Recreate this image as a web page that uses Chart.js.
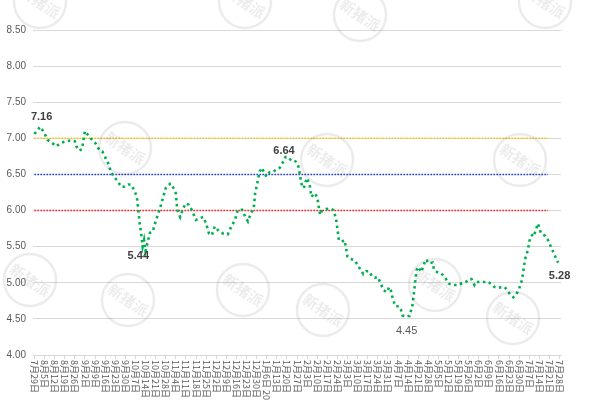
<!DOCTYPE html>
<html>
<head>
<meta charset="utf-8">
<script src="https://cdn.jsdelivr.net/npm/chart.js@4.4.1/dist/chart.umd.min.js"></script>
<style>
  html, body { margin: 0; padding: 0; background: #fff; }
</style>
</head>
<body>
<canvas id="priceChart" width="600" height="400"></canvas>
<script>
// weekly tick labels (one every 7 days)
const weekLabels = [
    '7月29日', '8月5日', '8月12日', '8月19日', '8月26日', '9月2日', '9月9日', '9月16日', '9月23日', '9月30日',
    '10月7日', '10月14日', '10月21日', '10月28日', '11月4日', '11月11日', '11月18日', '11月25日', '12月2日', '12月9日',
    '12月16日', '12月23日', '12月30日', '1月6日 2024', '1月13日', '1月20日', '1月27日', '2月3日', '2月10日', '2月17日',
    '2月24日', '3月3日', '3月10日', '3月17日', '3月24日', '3月31日', '4月7日', '4月14日', '4月21日', '4月28日',
    '5月5日', '5月12日', '5月19日', '5月26日', '6月2日', '6月9日', '6月16日', '6月23日', '6月30日', '7月7日',
    '7月14日', '7月21日', '7月28日'
];

// price series: day offset from 7月29日 and value
const priceDays = [
    0, 4, 7, 9, 12, 15, 19, 22, 25, 28, 29, 31, 33, 35, 37, 39, 42, 45, 47, 51,
    53, 55, 58, 60, 62, 65, 67, 69, 71, 72, 73, 74, 75, 76, 77, 80, 82, 84, 87, 89,
    91, 94, 95, 98, 99, 101, 103, 105, 107, 109, 112, 114, 117, 119, 121, 123, 125, 128, 131, 134,
    136, 139, 141, 144, 146, 148, 150, 152, 153, 155, 156, 158, 159, 161, 163, 165, 168, 170, 172, 174,
    176, 178, 180, 181, 183, 184, 185, 186, 187, 188, 189, 191, 192, 194, 196, 197, 198, 199, 202, 205,
    207, 209, 210, 211, 213, 215, 216, 217, 219, 222, 224, 226, 228, 230, 232, 234, 236, 238, 240, 242,
    244, 246, 247, 248, 250, 253, 254, 255, 257, 259, 260, 262, 263, 264, 265, 266, 268, 270, 271, 272,
    273, 276, 277, 279, 281, 283, 285, 287, 290, 292, 294, 296, 299, 301, 303, 305, 306, 308, 311, 313,
    315, 317, 319, 321, 324, 326, 328, 330, 332, 334, 336, 338, 339, 340, 342, 343, 344, 345, 346, 348,
    349, 350, 351, 354, 356, 358, 360, 362, 363
];
const priceValues = [
    7.06, 7.16, 7.07, 6.98, 6.94, 6.89, 6.94, 6.96, 6.97, 6.96, 6.89, 6.83, 6.85, 7.10, 7.05, 7.00, 6.94, 6.84, 6.82, 6.66,
    6.54, 6.47, 6.40, 6.33, 6.33, 6.36, 6.36, 6.29, 6.19, 6.01, 5.82, 5.68, 5.50, 5.59, 5.44, 5.69, 5.71, 5.85, 6.03, 6.17,
    6.31, 6.37, 6.37, 6.24, 6.01, 5.91, 6.03, 6.10, 6.08, 6.01, 5.87, 5.89, 5.91, 5.82, 5.68, 5.66, 5.78, 5.71, 5.68, 5.67,
    5.76, 5.87, 6.01, 6.01, 5.92, 5.85, 5.96, 6.03, 6.24, 6.43, 6.54, 6.59, 6.52, 6.47, 6.53, 6.53, 6.57, 6.59, 6.66, 6.74,
    6.74, 6.69, 6.69, 6.68, 6.61, 6.50, 6.38, 6.31, 6.33, 6.40, 6.45, 6.33, 6.19, 6.24, 6.19, 6.06, 5.94, 5.99, 6.02, 6.03,
    6.01, 5.90, 5.75, 5.59, 5.57, 5.59, 5.48, 5.36, 5.33, 5.31, 5.25, 5.18, 5.12, 5.16, 5.16, 5.09, 5.07, 5.08, 4.99, 4.90,
    4.87, 4.94, 4.90, 4.81, 4.68, 4.67, 4.63, 4.55, 4.53, 4.54, 4.54, 4.69, 4.85, 5.03, 5.18, 5.22, 5.15, 5.25, 5.32, 5.31,
    5.27, 5.28, 5.18, 5.15, 5.14, 5.11, 5.06, 4.99, 4.97, 4.97, 4.97, 4.99, 5.01, 5.05, 5.05, 4.97, 5.01, 5.01, 5.01, 5.01,
    5.01, 4.97, 4.94, 4.93, 4.94, 4.94, 4.89, 4.83, 4.80, 4.84, 4.92, 5.04, 5.18, 5.32, 5.45, 5.57, 5.64, 5.66, 5.64, 5.76,
    5.82, 5.76, 5.69, 5.65, 5.59, 5.50, 5.41, 5.32, 5.28
];

// horizontal reference levels
const refLevels = [7.00, 6.50, 6.00];
const refEndDay = 356;

// value callouts
const calloutDays = [5, 72, 173, 258, 364];
const calloutTexts = ['7.16', '5.44', '6.64', '4.45', '5.28'];

// y axis ticks
const yMin = 4.0;
const yMax = 8.5;
const yStep = 0.5;

// ---- styles ----
const refColors = ['#ffc000', '#1f3fe0', '#ff1a1a'];
const calloutStyle = [
    { dx: 0, dy: -10, weight: 'bold', color: '#404040' },
    { dx: 0, dy: 5, weight: 'bold', color: '#404040' },
    { dx: 0, dy: -13, weight: 'bold', color: '#404040' },
    { dx: 0, dy: 8, weight: 'normal', color: '#595959' },
    { dx: 0, dy: 13, weight: 'bold', color: '#404040' }
];
const watermarks = [
    [40, 2], [245, 2], [360, 15], [545, 2],
    [125, 148], [327, 160], [520, 160],
    [30, 280], [128, 300], [243, 290], [435, 285],
    [323, 310], [513, 318]
];

const datasets = [{
    label: 'price',
    data: priceDays.map((d, i) => ({ x: d, y: priceValues[i] })),
    borderColor: '#00b050',
    borderWidth: 2.6,
    borderDash: [2.5, 3.5],
    pointRadius: 0,
    tension: 0,
    fill: false
}];
refLevels.forEach((v, i) => {
    datasets.push({
        label: 'ref' + i,
        data: [{ x: 0, y: v }, { x: refEndDay, y: v }],
        borderColor: refColors[i],
        borderWidth: 1.5,
        borderDash: [1.5, 1.5],
        pointRadius: 0,
        fill: false
    });
});

// rotated week labels, reading top to bottom
const xLabelPlugin = {
    id: 'xLabels',
    afterDraw(chart) {
        const ctx = chart.ctx;
        const xs = chart.scales.x;
        ctx.save();
        ctx.font = '9px "Noto Sans CJK SC"';
        ctx.fillStyle = '#595959';
        ctx.textAlign = 'left';
        ctx.textBaseline = 'middle';
        weekLabels.forEach((lab, i) => {
            const px = xs.getPixelForValue(i * 7);
            ctx.save();
            ctx.translate(px, xs.top + 5);
            ctx.rotate(Math.PI / 2);
            ctx.fillText(lab, 0, 0);
            ctx.restore();
        });
        ctx.restore();
    }
};

const calloutPlugin = {
    id: 'callouts',
    afterDatasetsDraw(chart) {
        const ctx = chart.ctx;
        const xs = chart.scales.x, ys = chart.scales.y;
        ctx.save();
        ctx.textAlign = 'center';
        ctx.textBaseline = 'middle';
        calloutTexts.forEach((t, i) => {
            const st = calloutStyle[i];
            ctx.font = st.weight + ' 11px "Liberation Sans"';
            ctx.fillStyle = st.color;
            ctx.fillText(t, xs.getPixelForValue(calloutDays[i]) + st.dx,
                ys.getPixelForValue(parseFloat(t)) + st.dy);
        });
        ctx.restore();
    }
};

const watermarkPlugin = {
    id: 'watermark',
    afterDraw(chart) {
        const ctx = chart.ctx;
        ctx.save();
        ctx.strokeStyle = 'rgba(0,0,0,0.08)';
        ctx.fillStyle = 'rgba(0,0,0,0.08)';
        ctx.lineWidth = 2.5;
        ctx.font = 'bold 15px "Noto Sans CJK SC"';
        ctx.textAlign = 'center';
        ctx.textBaseline = 'middle';
        watermarks.forEach(([wx, wy]) => {
            ctx.beginPath();
            ctx.arc(wx, wy, 26, 0, Math.PI * 2);
            ctx.stroke();
            ctx.save();
            ctx.translate(wx, wy);
            ctx.rotate(0.6);
            ctx.fillText('新猪派', 0, 0);
            ctx.restore();
        });
        ctx.restore();
    }
};

const chart = new Chart(document.getElementById('priceChart').getContext('2d'), {
    type: 'line',
    data: { datasets: datasets },
    options: {
        responsive: false,
        devicePixelRatio: 1,
        animation: false,
        layout: { padding: { top: 30, right: 39, left: 0, bottom: 0 } },
        plugins: {
            legend: { display: false },
            tooltip: { enabled: false }
        },
        scales: {
            x: {
                type: 'linear',
                min: -1,
                max: 365,
                afterFit: s => { s.height = 45; },
                afterBuildTicks: s => { s.ticks = weekLabels.map((_, i) => ({ value: i * 7 })); },
                ticks: { display: false },
                grid: { drawOnChartArea: false, drawTicks: true, tickLength: 4, color: '#d9d9d9' },
                border: { color: '#d9d9d9' }
            },
            y: {
                min: yMin,
                max: yMax,
                afterFit: s => { s.width = 33; },
                ticks: {
                    stepSize: yStep,
                    padding: 7,
                    color: '#595959',
                    font: { family: 'Liberation Sans', size: 10 },
                    callback: v => v.toFixed(2)
                },
                grid: { drawTicks: false, color: '#d9d9d9' },
                border: { display: false }
            }
        }
    },
    plugins: [xLabelPlugin, calloutPlugin, watermarkPlugin]
});
</script>
</body>
</html>
